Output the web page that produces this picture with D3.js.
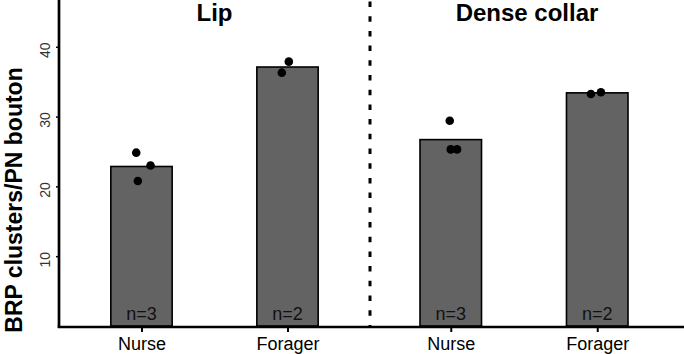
<!DOCTYPE html>
<html><head><meta charset="utf-8">
<script src="https://cdn.jsdelivr.net/npm/d3@7"></script>
<style>body{margin:0;background:#fff}svg{display:block}</style>
</head><body>
<svg id="c" width="684" height="354"></svg>
<script>
const regions = ["Lip", "Dense collar"];
const groups = ["Nurse", "Forager"];
const means = [[22.85, 37.1], [26.7, 33.4]];
const counts = [[3, 2], [3, 2]];
const points = [
  [[24.83, 23.0, 20.77], [37.87, 36.29]],
  [[29.41, 25.3, 25.3], [33.24, 33.48]]
];
const jitter = [
  [[-0.036, 0.062, -0.025], [0.009, -0.039]],
  [[-0.007, 0.0, 0.043], [-0.043, 0.025]]
];
const yTicks = [10, 20, 30, 40];
const yTitle = "BRP clusters/PN bouton";

const svg = d3.select("#c");
const font = "'Liberation Sans', Arial, Helvetica, sans-serif";
const y = d3.scaleLinear().domain([0, 46.7]).range([326, 0]);
const panels = [[59, 370], [368, 680]];
const xs = panels.map(r => d3.scalePoint().domain(groups).range(r).padding(0.565));

regions.forEach((reg, i) => {
  const x = xs[i];
  const step = x.step();
  const bw = step * 0.42;
  const g = svg.append("g");
  g.selectAll("rect").data(groups).join("rect")
    .attr("x", d => x(d) - bw / 2)
    .attr("y", (d, j) => y(means[i][j]))
    .attr("width", bw)
    .attr("height", (d, j) => y(0) - y(means[i][j]))
    .attr("fill", "#636363").attr("stroke", "#000").attr("stroke-width", 1.6);
  groups.forEach((gr, j) => {
    g.selectAll(null).data(points[i][j]).join("circle")
      .attr("cx", (v, k) => x(gr) + jitter[i][j][k] * step)
      .attr("cy", v => y(v))
      .attr("r", 4.3).attr("fill", "#000");
    g.append("text").attr("x", x(gr)).attr("y", 320)
      .attr("text-anchor", "middle").attr("font-family", font)
      .attr("font-size", 18).attr("fill", "#111")
      .text("n=" + counts[i][j]);
  });
  const ax = svg.append("g").attr("transform", "translate(0,327)")
    .call(d3.axisBottom(x).tickSize(5).tickPadding(2));
  ax.select(".domain").remove();
  ax.selectAll(".tick line").attr("stroke", "#000").attr("stroke-width", 2);
  ax.selectAll(".tick text").attr("font-family", font).attr("font-size", 18)
    .attr("fill", "#000").attr("dy", "0.9em");
  svg.append("text").attr("x", (panels[i][0] + panels[i][1]) / 2 + (i ? 3 : 0))
    .attr("y", 21).attr("text-anchor", "middle")
    .attr("font-family", font).attr("font-weight", "bold").attr("font-size", 24)
    .attr("fill", "#000").text(reg);
});

svg.append("line").attr("x1", 370).attr("x2", 370).attr("y1", 1.5).attr("y2", 326)
  .attr("stroke", "#000").attr("stroke-width", 3).attr("stroke-dasharray", "5.5,9.2");

const ay = svg.append("g").attr("transform", "translate(59,0)")
  .call(d3.axisLeft(y).tickValues(yTicks).tickSize(3).tickPadding(0));
ay.select(".domain").remove();
ay.selectAll(".tick line").attr("stroke", "#000").attr("stroke-width", 1.5);
ay.selectAll(".tick text").attr("font-family", font).attr("font-size", 14)
  .attr("fill", "#333").attr("text-anchor", "middle").attr("dy", 0)
  .attr("transform", "translate(-9,0) rotate(-90)");

svg.append("line").attr("x1", 59).attr("x2", 59).attr("y1", 0).attr("y2", 327.5)
  .attr("stroke", "#000").attr("stroke-width", 2.7);
svg.append("line").attr("x1", 57.7).attr("x2", 684).attr("y1", 327).attr("y2", 327)
  .attr("stroke", "#000").attr("stroke-width", 2.7);

svg.append("text").attr("transform", "translate(21.5,200) rotate(-90)")
  .attr("text-anchor", "middle").attr("font-family", font)
  .attr("font-weight", "bold").attr("font-size", 23).attr("fill", "#000")
  .text(yTitle);
</script>
</body></html>
